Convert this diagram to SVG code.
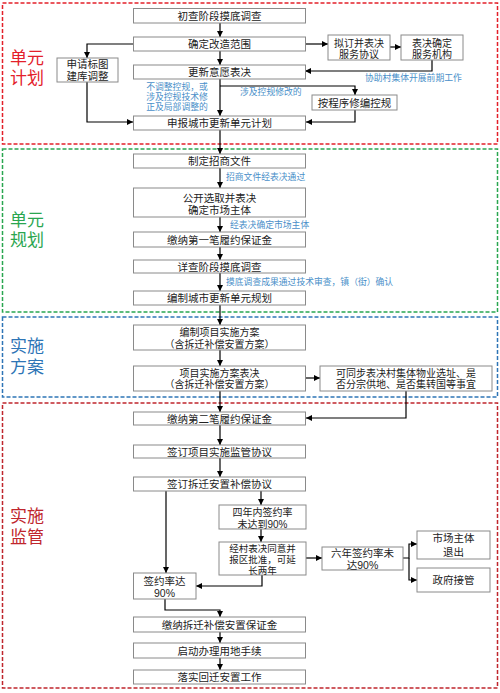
<svg xmlns="http://www.w3.org/2000/svg" width="500" height="693" viewBox="0 0 500 693">
<defs>
<marker id="ah" markerUnits="userSpaceOnUse" markerWidth="6" markerHeight="6" refX="6" refY="3" orient="auto">
<path d="M0,0 L6,3 L0,6 z" fill="#000"/>
</marker>
<style>
.box{fill:#fff;stroke:#8a8a8a;stroke-width:1}
.t{font-family:"Liberation Sans","Noto Sans CJK SC",sans-serif;font-size:10.5px;fill:#222;text-anchor:middle}
.m{font-size:10px}
.s{font-size:9.5px}
.n{font-family:"Liberation Sans","Noto Sans CJK SC",sans-serif;font-size:8.8px;fill:#4a8fc9}
.sec{fill:none;stroke-width:1.5;stroke-dasharray:4 2}
.lbl{font-family:"Liberation Sans","Noto Sans CJK SC",sans-serif;font-size:17px}
.c{fill:none;stroke:#000;stroke-width:1.2}
.c path{marker-end:url(#ah)}
</style>
</defs>
<rect width="500" height="693" fill="#fff"/>

<g id="sections">
<rect class="sec" x="2.5" y="3" width="495" height="141" stroke="#e3202a"/>
<text class="lbl" x="10" y="64" fill="#e3202a">单元</text>
<text class="lbl" x="10" y="84" fill="#e3202a">计划</text>
<rect class="sec" x="2.5" y="149" width="495" height="163" stroke="#2aa650"/>
<text class="lbl" x="10" y="226" fill="#2aa650">单元</text>
<text class="lbl" x="10" y="246" fill="#2aa650">规划</text>
<rect class="sec" x="2.5" y="317" width="495" height="80" stroke="#2e75b6"/>
<text class="lbl" x="10" y="352" fill="#2e75b6">实施</text>
<text class="lbl" x="10" y="373" fill="#2e75b6">方案</text>
<rect class="sec" x="2.5" y="403" width="495" height="285" stroke="#c0262d"/>
<text class="lbl" x="10" y="522" fill="#c0262d">实施</text>
<text class="lbl" x="10" y="543" fill="#c0262d">监管</text>
</g>

<g id="connectors" class="c">
<path d="M220,23 V37"/>
<path d="M220,51 V65"/>
<path d="M220,79 V116"/>
<path d="M133,44 H87 V58"/>
<path d="M87,82 V122 H133"/>
<path d="M305,44 H328"/>
<path d="M390,47 H401"/>
<path d="M432,60 V71 H305"/>
<path d="M220,86 H355 V95"/>
<path d="M355,110 V122 H306"/>
<path d="M220,130 V154"/>
<path d="M220,168 V188"/>
<path d="M220,217 V232"/>
<path d="M220,247 V260"/>
<path d="M220,273 V291"/>
<path d="M220,305 V325"/>
<path d="M220,350 V366"/>
<path d="M306,378 H320"/>
<path d="M220,391 V412"/>
<path d="M406,391 V418 H306"/>
<path d="M220,425 V445"/>
<path d="M220,458 V477"/>
<path d="M166,491 V573"/>
<path d="M261,491 V505"/>
<path d="M261,529 V542"/>
<path d="M306,558 H322"/>
<path d="M403,558 H409 V544 H417"/>
<path d="M409,558 V580 H417"/>
<path d="M262,575 V586 H196"/>
<path d="M165,599 V610 H220 V617"/>
<path d="M220,632 V643"/>
<path d="M220,658 V670"/>
</g>

<g id="notes">
<text class="n" x="365" y="81">协助村集体开展前期工作</text>
<text class="n" x="240" y="95">涉及控规修改的</text>
<text class="n" x="177" y="90" text-anchor="middle">不调整控规，或</text>
<text class="n" x="177" y="100" text-anchor="middle">涉及控规技术修</text>
<text class="n" x="177" y="110" text-anchor="middle">正及局部调整的</text>
<text class="n" x="226" y="180">招商文件经表决通过</text>
<text class="n" x="230" y="228">经表决确定市场主体</text>
<text class="n" x="226" y="285">摸底调查成果通过技术审查，镇（街）确认</text>
</g>

<g id="n1"><rect class="box" x="133.5" y="8.5" width="172" height="14.5"/><text class="t" x="219.5" y="19.5">初查阶段摸底调查</text></g>
<g id="n2"><rect class="box" x="133.5" y="37" width="172" height="14"/><text class="t" x="219.5" y="48">确定改造范围</text></g>
<g id="n3"><rect class="box" x="133.5" y="65" width="172" height="14"/><text class="t" x="219.5" y="76">更新意愿表决</text></g>
<g id="n4"><rect class="box" x="133.5" y="116" width="172" height="14"/><text class="t" x="219.5" y="127">申报城市更新单元计划</text></g>
<g id="n5"><rect class="box" x="57" y="58" width="61" height="24"/><text class="t" x="87.5" y="68">申请标图</text><text class="t" x="87.5" y="80">建库调整</text></g>
<g id="n6"><rect class="box" x="328" y="35" width="62" height="25"/><text class="t m" x="359" y="46.5">拟订并表决</text><text class="t m" x="359" y="58">服务协议</text></g>
<g id="n7"><rect class="box" x="401" y="35" width="62" height="25"/><text class="t m" x="432" y="46.5">表决确定</text><text class="t m" x="432" y="58">服务机构</text></g>
<g id="n8"><rect class="box" x="312" y="95" width="85" height="15"/><text class="t" x="354.5" y="106.5">按程序修编控规</text></g>

<g id="n9"><rect class="box" x="133.5" y="154" width="172" height="14"/><text class="t" x="219.5" y="165">制定招商文件</text></g>
<g id="n10"><rect class="box" x="133.5" y="188" width="172" height="29"/><text class="t" x="219.5" y="202">公开选取并表决</text><text class="t" x="219.5" y="214">确定市场主体</text></g>
<g id="n11"><rect class="box" x="133.5" y="232" width="172" height="15"/><text class="t" x="219.5" y="243.5">缴纳第一笔履约保证金</text></g>
<g id="n12"><rect class="box" x="133.5" y="260" width="172" height="13"/><text class="t" x="219.5" y="270.5">详查阶段摸底调查</text></g>
<g id="n13"><rect class="box" x="133.5" y="291" width="172" height="14"/><text class="t" x="219.5" y="302">编制城市更新单元规划</text></g>

<g id="n14"><rect class="box" x="133.5" y="325" width="172" height="25"/><text class="t m" x="219.5" y="336">编制项目实施方案</text><text class="t m" x="219.5" y="347.5">（含拆迁补偿安置方案）</text></g>
<g id="n15"><rect class="box" x="133.5" y="366" width="172" height="25"/><text class="t m" x="219.5" y="376.5">项目实施方案表决</text><text class="t m" x="219.5" y="388">（含拆迁补偿安置方案）</text></g>
<g id="n16"><rect class="box" x="320" y="366" width="172" height="25"/><text class="t m" x="406" y="376.5">可同步表决村集体物业选址、是</text><text class="t m" x="406" y="388">否分宗供地、是否集转国等事宜</text></g>

<g id="n17"><rect class="box" x="133.5" y="412" width="172" height="13"/><text class="t" x="219.5" y="422.5">缴纳第二笔履约保证金</text></g>
<g id="n18"><rect class="box" x="133.5" y="445" width="172" height="13"/><text class="t" x="219.5" y="455.5">签订项目实施监管协议</text></g>
<g id="n19"><rect class="box" x="133.5" y="477" width="172" height="14"/><text class="t" x="219.5" y="488">签订拆迁安置补偿协议</text></g>
<g id="n20"><rect class="box" x="219" y="505" width="87" height="24"/><text class="t m" x="262.5" y="516">四年内签约率</text><text class="t m" x="262.5" y="527.5">未达到90%</text></g>
<g id="n21"><rect class="box" x="219" y="542" width="87" height="33"/><text class="t s" x="262.5" y="551.5">经村表决同意并</text><text class="t s" x="262.5" y="562.5">报区批准，可延</text><text class="t s" x="262.5" y="573.5">长两年</text></g>
<g id="n22"><rect class="box" x="322" y="547" width="81" height="23"/><text class="t" x="362.5" y="557">六年签约率未</text><text class="t" x="362.5" y="569">达90%</text></g>
<g id="n23"><rect class="box" x="417" y="531" width="73" height="28"/><text class="t" x="453.5" y="542">市场主体</text><text class="t" x="453.5" y="556">退出</text></g>
<g id="n24"><rect class="box" x="417" y="568" width="73" height="24"/><text class="t" x="453.5" y="584">政府接管</text></g>
<g id="n25"><rect class="box" x="133.5" y="573" width="62.5" height="26"/><text class="t" x="164.5" y="585">签约率达</text><text class="t" x="164.5" y="597">90%</text></g>
<g id="n26"><rect class="box" x="133.5" y="617" width="172" height="15"/><text class="t" x="219.5" y="628.5">缴纳拆迁补偿安置保证金</text></g>
<g id="n27"><rect class="box" x="133.5" y="643" width="172" height="15"/><text class="t" x="219.5" y="654.5">启动办理用地手续</text></g>
<g id="n28"><rect class="box" x="133.5" y="670" width="172" height="14"/><text class="t" x="219.5" y="681">落实回迁安置工作</text></g>
</svg>
